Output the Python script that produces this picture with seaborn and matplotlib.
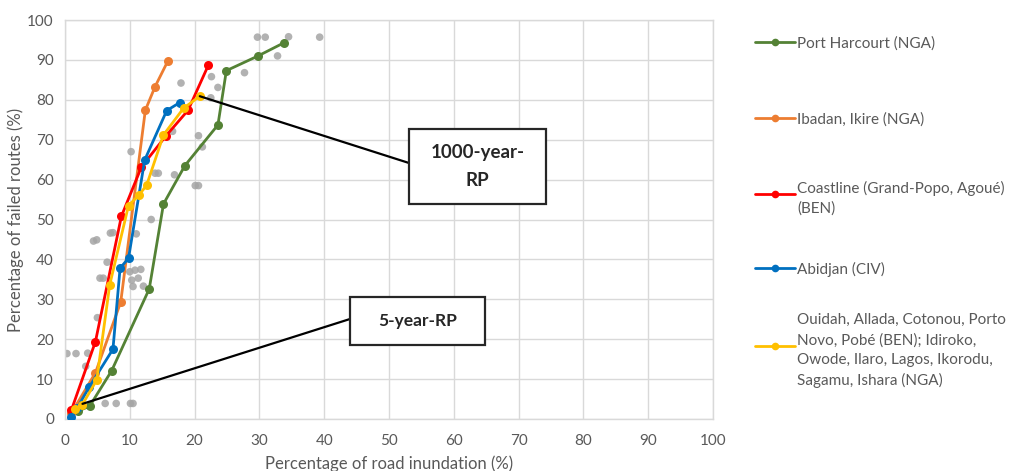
import numpy as np
import pandas as pd
import matplotlib
matplotlib.use("Agg")
import matplotlib.pyplot as plt
from matplotlib.lines import Line2D
from matplotlib.patches import Rectangle
import seaborn as sns

# ---------------- data ----------------
series_names = [
    "Port Harcourt (NGA)",
    "Ibadan, Ikire (NGA)",
    "Coastline (Grand-Popo, Agoué)\n(BEN)",
    "Abidjan (CIV)",
    "Ouidah, Allada, Cotonou, Porto\nNovo, Pobé (BEN); Idiroko,\nOwode, Ilaro, Lagos, Ikorodu,\nSagamu, Ishara (NGA)",
]
series_colors = ["#548235", "#ED7D31", "#FF0000", "#0070C0", "#FFC000"]

ph_x = [2.0, 3.8, 7.2, 13.0, 15.2, 18.5, 23.6, 24.9, 29.8, 33.8]
ph_y = [2.0, 3.2, 12.1, 32.6, 53.9, 63.5, 73.7, 87.3, 91.0, 94.3]

ib_x = [1.0, 4.7, 8.6, 12.4, 13.9, 15.9]
ib_y = [1.5, 11.6, 29.3, 77.4, 83.3, 89.8]

co_x = [1.0, 4.7, 8.7, 11.8, 15.6, 19.0, 22.1]
co_y = [2.3, 19.4, 50.8, 63.2, 71.0, 77.4, 88.6]

ab_x = [1.0, 1.9, 3.7, 7.4, 8.5, 9.8, 12.3, 15.7, 17.7]
ab_y = [0.6, 2.8, 7.9, 17.5, 37.8, 40.3, 64.9, 77.3, 79.3]

ou_x = [1.5, 2.6, 4.9, 6.9, 9.8, 11.4, 12.6, 15.2, 18.3, 20.8]
ou_y = [2.5, 3.4, 9.8, 33.6, 53.5, 56.1, 58.6, 71.2, 77.9, 80.9]

other_x = [29.7, 30.9, 34.5, 39.3, 32.8, 27.7, 22.6, 23.6, 17.9, 22.5,
           20.6, 21.2, 16.6, 10.2, 13.9, 14.4, 16.9, 20.1, 20.6, 13.3,
           4.4, 4.9, 7.0, 7.4, 11.0, 6.5, 5.4, 5.9, 10.0, 10.8,
           11.7, 10.3, 11.3, 10.5, 12.1, 5.0, 0.3, 1.7, 3.5, 3.2,
           6.2, 7.9, 10.1, 10.5]
other_y = [95.7, 95.7, 95.8, 95.7, 91.0, 86.8, 85.8, 83.1, 84.2, 80.5,
           71.0, 68.2, 72.1, 67.0, 61.6, 61.6, 61.2, 58.5, 58.5, 50.0,
           44.6, 44.9, 46.6, 46.7, 46.4, 39.3, 35.3, 35.3, 36.9, 37.3,
           37.5, 34.8, 35.3, 33.2, 33.3, 25.4, 16.4, 16.4, 16.5, 13.2,
           3.9, 3.9, 3.9, 3.9]

ticks = list(range(0, 101, 10))
x_label = "Percentage of road inundation (%)"
y_label = "Percentage of failed routes (%)"

rp1000_label = "1000-year-\nRP"
rp5_label = "5-year-RP"
rp1000_from = (20.8, 80.9)
rp5_from = (2.7, 3.8)

# ---------------- build table ----------------
all_x = [ph_x, ib_x, co_x, ab_x, ou_x]
all_y = [ph_y, ib_y, co_y, ab_y, ou_y]
frames = []
for i, (nm, xs, ys) in enumerate(zip(series_names, all_x, all_y)):
    frames.append(pd.DataFrame({"x": xs, "y": ys, "series": nm, "order": np.arange(len(xs))}))
df = pd.concat(frames, ignore_index=True)
others = pd.DataFrame({"x": other_x, "y": other_y})

# ---------------- style ----------------
sns.set_style("white")
plt.rcParams["font.family"] = ["Lato", "DejaVu Sans"]
txt_col = "#595959"
grid_col = "#D9D9D9"

fig = plt.figure(figsize=(10.17, 4.71), dpi=100)
ax = fig.add_axes([65 / 1017, 1 - 419 / 471, (713 - 65) / 1017, (419 - 20) / 471])

sns.scatterplot(data=others, x="x", y="y", ax=ax, color="#A5A5A5", s=30,
                edgecolor="none", alpha=0.85, zorder=2, legend=False)

for nm, col in zip(series_names, series_colors):
    sub = df[df["series"] == nm]
    sns.lineplot(data=sub, x="x", y="y", ax=ax, sort=False, estimator=None,
                 color=col, lw=2.0, marker="o", markersize=6.5,
                 markeredgewidth=0, zorder=3, legend=False)

ax.set_xlim(0, 100)
ax.set_ylim(0, 100)
ax.set_xticks(ticks)
ax.set_yticks(ticks)
ax.grid(True, color=grid_col, lw=1.0, zorder=0)
ax.set_axisbelow(True)
for s in ax.spines.values():
    s.set_color(grid_col)
    s.set_linewidth(1.0)
ax.tick_params(axis="x", length=0, labelsize=11, labelcolor=txt_col, pad=11)
ax.tick_params(axis="y", length=0, labelsize=11, labelcolor=txt_col, pad=8)
ax.set_xlabel(x_label, fontsize=12, color=txt_col, labelpad=5)
ax.set_ylabel(y_label, fontsize=12, color=txt_col, labelpad=2)

# ---------------- annotations ----------------
def px2data(px, py):
    return ((px - 65) / 6.48, (419 - py) / 3.99)

# 1000-year box
bx0, by1 = px2data(409, 129)
bx1, by0 = px2data(546, 204)
ax.annotate("", xy=rp1000_from, xytext=px2data(409, 163),
            arrowprops=dict(arrowstyle="-", color="black", lw=1.6,
                            shrinkA=0, shrinkB=0), zorder=5)
ax.add_patch(Rectangle((bx0, by0), bx1 - bx0, by1 - by0, facecolor="white",
                       edgecolor="#262626", lw=1.6, zorder=6, clip_on=False))
ax.text((bx0 + bx1) / 2, (by0 + by1) / 2, rp1000_label, ha="center", va="center",
        fontsize=13.5, fontweight="bold", color="#262626", zorder=7, linespacing=1.75)

# 5-year box
cx0, cy1 = px2data(350, 297)
cx1, cy0 = px2data(485, 345)
ax.annotate("", xy=rp5_from, xytext=px2data(350, 319),
            arrowprops=dict(arrowstyle="-", color="black", lw=1.6,
                            shrinkA=0, shrinkB=0), zorder=5)
ax.add_patch(Rectangle((cx0, cy0), cx1 - cx0, cy1 - cy0, facecolor="white",
                       edgecolor="#262626", lw=1.6, zorder=6, clip_on=False))
ax.text((cx0 + cx1) / 2, (cy0 + cy1) / 2, rp5_label, ha="center", va="center",
        fontsize=12.5, fontweight="bold", color="#262626", zorder=7)

# ---------------- legend (manual, Excel-like slots) ----------------
W, H = 1017, 471
slot_y = [42, 118, 194, 268, 346]
for nm, col, yy in zip(series_names, series_colors, slot_y):
    yf = 1 - yy / H
    fig.add_artist(Line2D([755 / W, 775 / W, 795 / W], [yf, yf, yf], color=col,
                          lw=2.0, marker="o", markersize=5.5, markevery=[1],
                          markeredgewidth=0, transform=fig.transFigure))
    fig.text(797 / W, yf, nm, ha="left", va="center_baseline", fontsize=11,
             color=txt_col, linespacing=1.5)

fig.savefig("out.png", dpi=100)
